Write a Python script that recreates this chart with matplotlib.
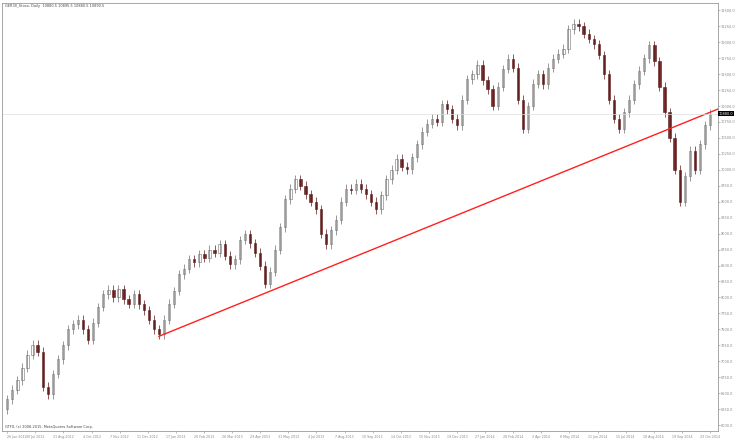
import matplotlib
matplotlib.use("Agg")
import matplotlib.pyplot as plt
import numpy as np

closes = [6400,6550,6700,6900,7100,7260,7150,6600,6480,6800,7030,7250,7500,7580,7650,7500,7340,7600,7850,8050,
8120,8000,8130,7970,7900,8050,7890,7800,7650,7500,7420,7650,7900,8100,8360,8450,8600,8550,8680,8620,
8750,8700,8830,8650,8520,8600,8900,8990,8850,8700,8500,8210,8400,8750,9100,9540,9700,9850,9750,9620,
9500,9380,9000,8830,9050,9220,9500,9700,9690,9780,9700,9620,9500,9380,9600,9850,10000,10170,10050,10010,
10200,10400,10600,10720,10800,10750,11030,10950,10800,10700,11100,11420,11500,11650,11400,11260,11000,11300,11580,11740,
11600,11100,10640,11000,11350,11500,11340,11600,11740,11820,11900,12200,12290,12250,12130,12050,11970,11800,11500,11100,
10800,10640,10900,11100,11340,11550,11750,11950,11700,11300,10900,10500,10000,9500,9900,10300,10000,10400,10700,10880]
first_open = 6250
date_labels = ["26 Jun 2012","30 Jul 2012","31 Aug 2012","4 Oct 2012","7 Nov 2012","11 Dec 2012","17 Jan 2013",
"20 Feb 2013","26 Mar 2013","29 Apr 2013","31 May 2013","4 Jul 2013","7 Aug 2013","10 Sep 2013","14 Oct 2013",
"15 Nov 2013","19 Dec 2013","27 Jan 2014","28 Feb 2014","3 Apr 2014","8 May 2014","11 Jun 2014","15 Jul 2014",
"18 Aug 2014","19 Sep 2014","23 Oct 2014"]
trend_start = (30, 7390)
trend_end_price = 10950
last_price = 10880

fig = plt.figure(figsize=(7.36, 4.42), dpi=100)
ax = fig.add_axes([0.003, 0.024, 0.972, 0.97])
n = len(closes)
opens = [first_open] + closes[:-1]
for i, (o, c) in enumerate(zip(opens, closes)):
    hi, lo = max(o, c) + 70, min(o, c) - 70
    up = c >= o
    col = '#707070' if up else '#5a1c1c'
    ax.vlines(i, lo, hi, color=col, lw=0.5)
    ax.bar(i, abs(c - o) or 5, bottom=min(o, c), width=0.45,
           color='white' if up else '#7a2a2a', edgecolor=col, lw=0.4)
xmax = n + 0.5
ax.plot([trend_start[0], xmax], [trend_start[1], trend_end_price], color='#ff2020', lw=1)
ax.axhline(last_price, color='#dddddd', lw=0.5)
ax.set_xlim(-1, xmax)
ax.set_ylim(5900, 12620)
ax.yaxis.tick_right()
yt = np.arange(6000, 12600, 250)
ax.set_yticks(yt)
ax.set_yticklabels([f"{v:.1f}" for v in yt], fontsize=2.5, color='#555')
xt = np.linspace(0, n - 1, len(date_labels))
ax.set_xticks(xt)
labs = ax.set_xticklabels(date_labels, fontsize=2.3, color='#555')
labs[0].set_ha('left')
ax.tick_params(length=1.5, width=0.4, pad=1, colors='#888')
for s in ax.spines.values():
    s.set_color('#999'); s.set_linewidth(0.6)
ax.text(0.004, 0.997, "GER30_Stoxx, Daily  10880.5 10895.5 10880.5 10890.5", transform=ax.transAxes,
        fontsize=2.5, va='top', color='#444')
ax.text(0.004, 0.005, "GTFX, (c) 2008-2015, MetaQuotes Software Corp.", transform=ax.transAxes,
        fontsize=2.5, va='bottom', color='#444')
ax.text(1.002, last_price, f"{last_price:.1f}", transform=ax.get_yaxis_transform(), fontsize=2.5,
        color='white', va='center', bbox=dict(facecolor='black', pad=0.5, lw=0))
fig.savefig("out.png", dpi=100)
